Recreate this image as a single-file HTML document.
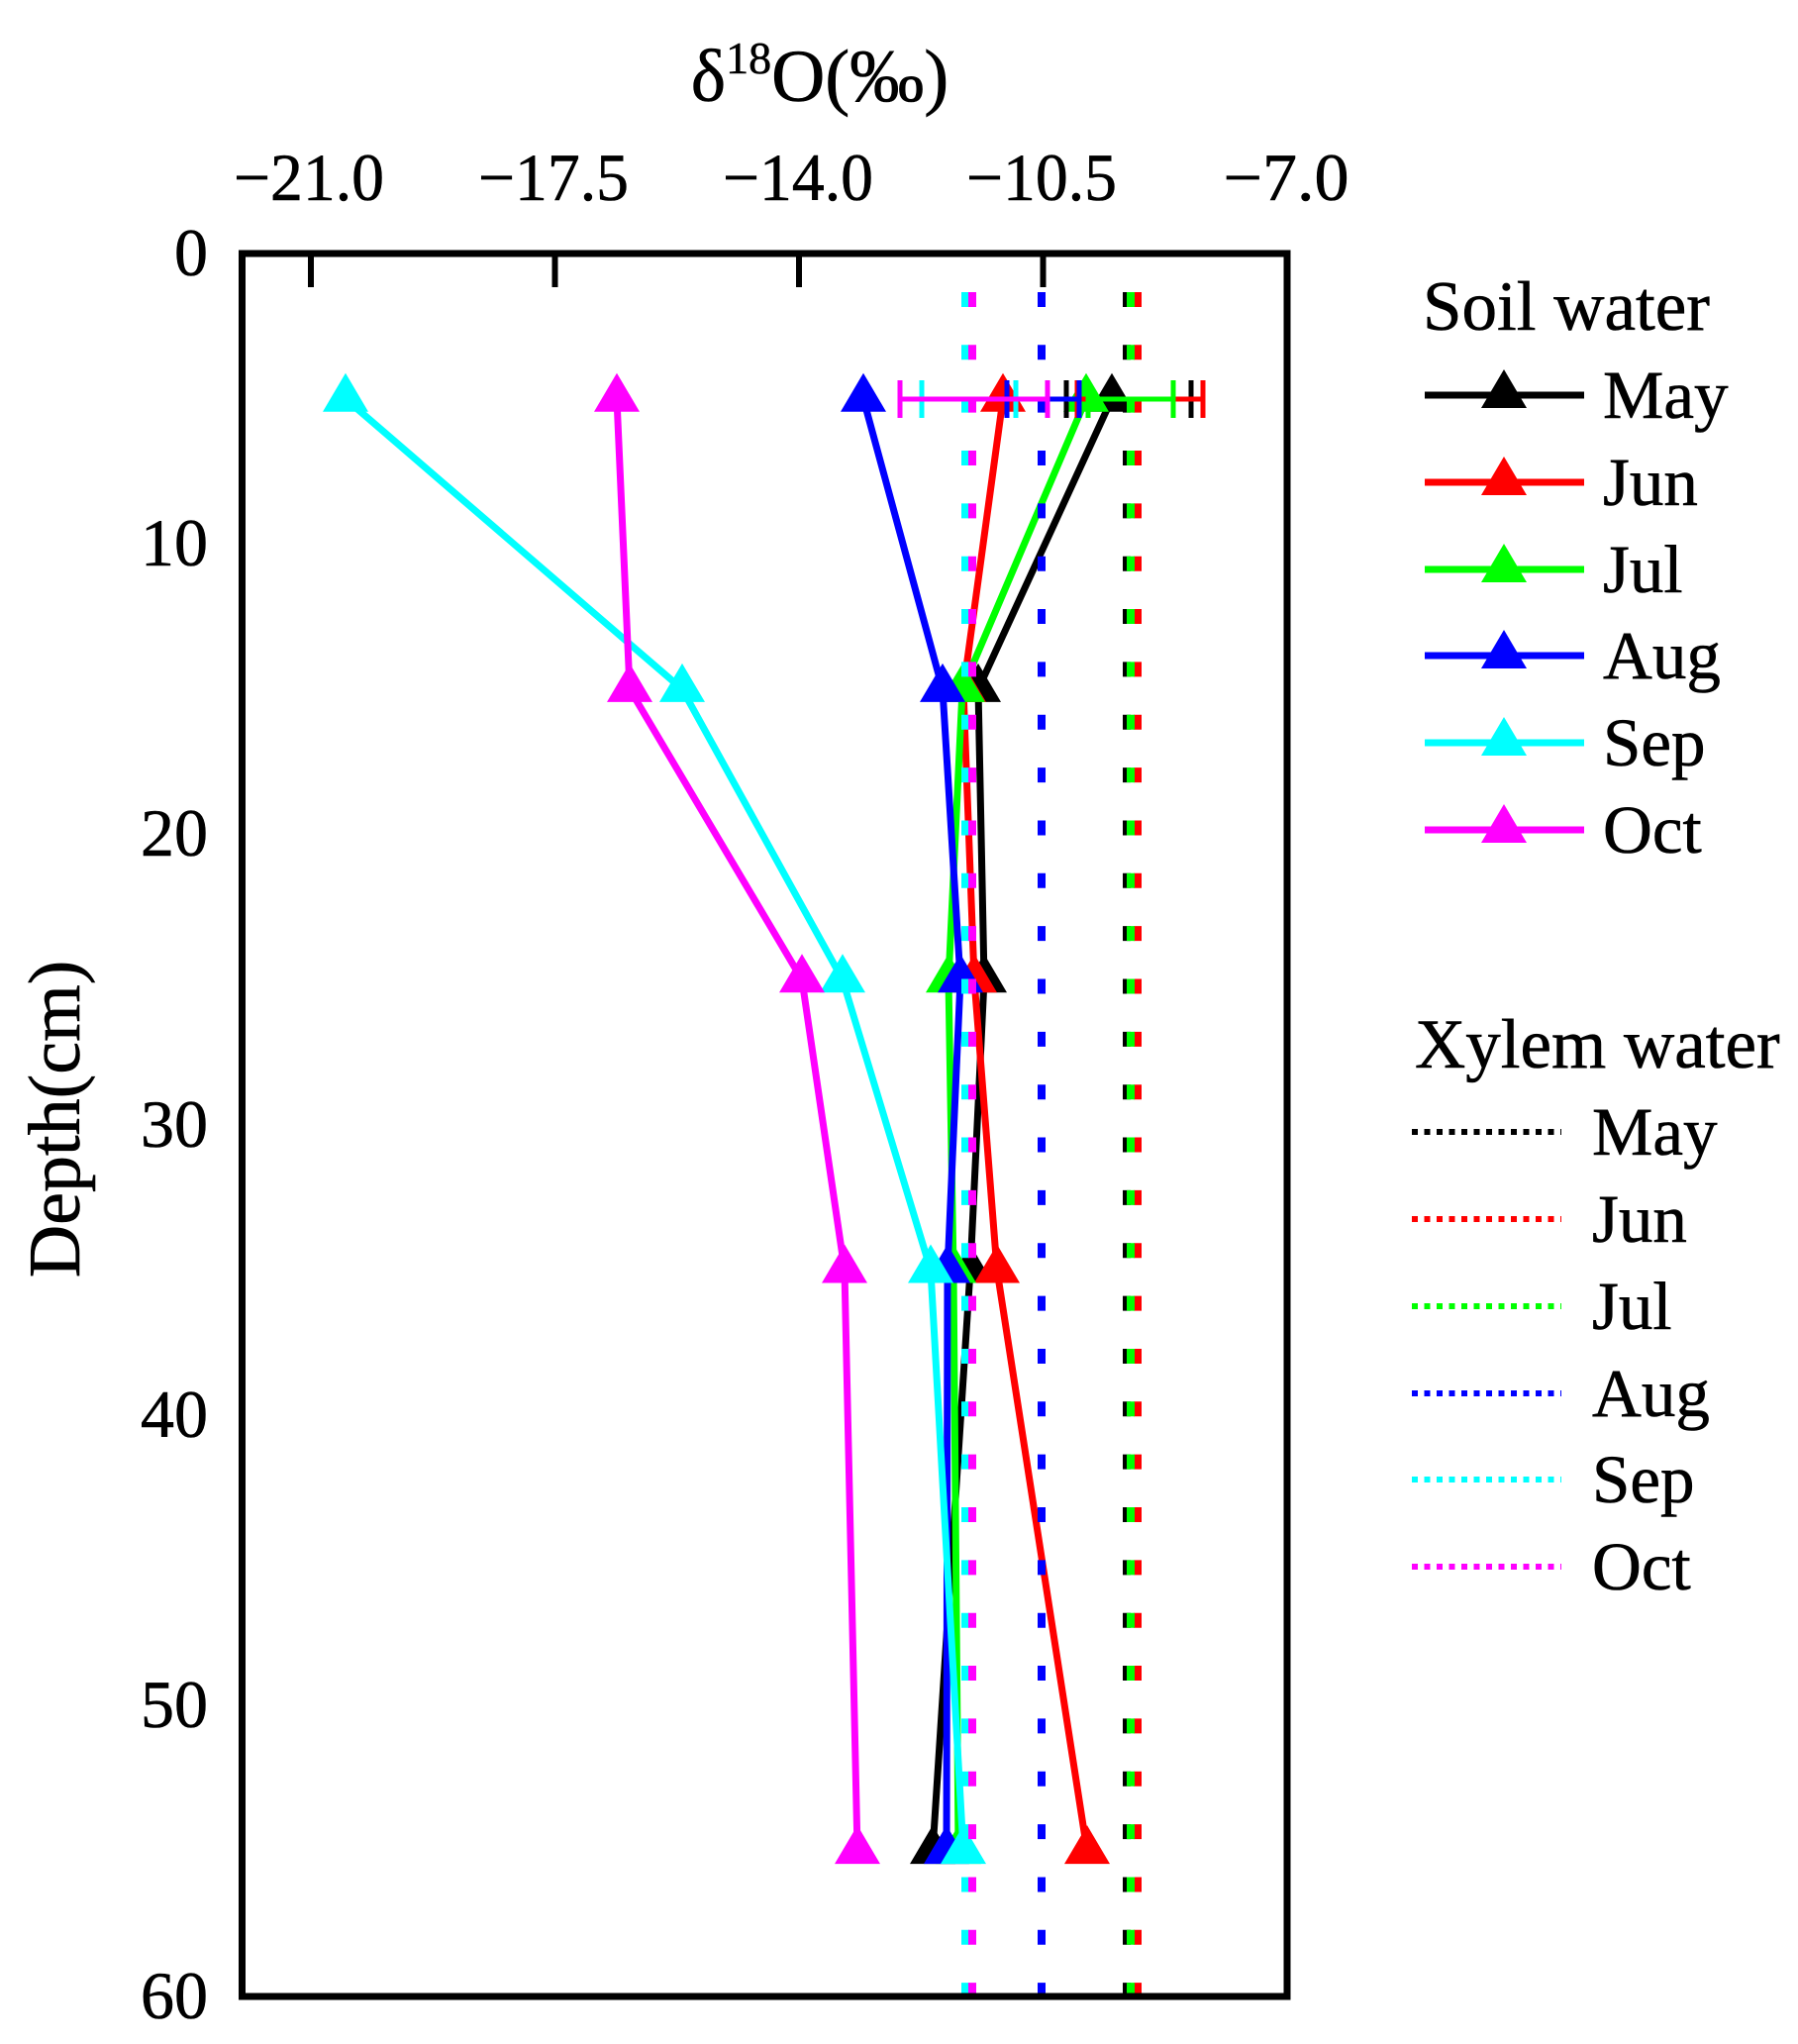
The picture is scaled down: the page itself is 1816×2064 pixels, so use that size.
<!DOCTYPE html>
<html>
<head>
<meta charset="utf-8">
<style>
html,body{margin:0;padding:0;background:#fff;}
svg{display:block;}
text{font-family:"Liberation Serif","DejaVu Serif",serif;fill:#000;stroke:#000;stroke-width:0.6px;}
</style>
</head>
<body>
<svg width="1816" height="2064" viewBox="0 0 1816 2064" xmlns="http://www.w3.org/2000/svg">
<rect x="0" y="0" width="1816" height="2064" fill="#fff"/>

<!-- Title -->
<text x="828" y="102" text-anchor="middle" font-size="75">δ<tspan font-size="46" dy="-28">18</tspan><tspan dy="28">O(‰)</tspan></text>

<!-- X tick labels -->
<g font-size="68" text-anchor="middle">
<text x="312" y="202" textLength="152" lengthAdjust="spacingAndGlyphs">−21.0</text>
<text x="559" y="202" textLength="152" lengthAdjust="spacingAndGlyphs">−17.5</text>
<text x="806" y="202" textLength="152" lengthAdjust="spacingAndGlyphs">−14.0</text>
<text x="1052" y="202" textLength="152" lengthAdjust="spacingAndGlyphs">−10.5</text>
<text x="1299" y="202" textLength="127" lengthAdjust="spacingAndGlyphs">−7.0</text>
</g>

<!-- Y tick labels -->
<g font-size="68" text-anchor="end">
<text x="210" y="278">0</text>
<text x="210" y="571">10</text>
<text x="210" y="864">20</text>
<text x="210" y="1158">30</text>
<text x="210" y="1451">40</text>
<text x="210" y="1744">50</text>
<text x="210" y="2038">60</text>
</g>

<!-- Y axis label -->
<text x="0" y="0" font-size="74" text-anchor="middle" transform="translate(80,1130) rotate(-90)">Depth(cm)</text>

<!-- Soil water series -->
<polyline fill="none" stroke="#000000" stroke-width="7" stroke-linejoin="round" points="1123,402.7 988,695.9 994,989.2 980,1282.5 942,1869.1"/>
<g fill="#000000">
<polygon points="1123,376.7 1100,415.7 1146,415.7"/>
<polygon points="988,669.9 965,708.9 1011,708.9"/>
<polygon points="994,963.2 971,1002.2 1017,1002.2"/>
<polygon points="980,1256.5 957,1295.5 1003,1295.5"/>
<polygon points="942,1843.1 919,1882.1 965,1882.1"/>
</g>

<polyline fill="none" stroke="#ff0000" stroke-width="7" stroke-linejoin="round" points="1013,402.7 973,695.9 984,989.2 1007,1282.5 1098,1869.1"/>
<g fill="#ff0000">
<polygon points="1013,376.7 990,415.7 1036,415.7"/>
<polygon points="973,669.9 950,708.9 996,708.9"/>
<polygon points="984,963.2 961,1002.2 1007,1002.2"/>
<polygon points="1007,1256.5 984,1295.5 1030,1295.5"/>
<polygon points="1098,1843.1 1075,1882.1 1121,1882.1"/>
</g>

<polyline fill="none" stroke="#00ff00" stroke-width="7" stroke-linejoin="round" points="1097,402.7 972,695.9 958,989.2 963,1282.5 968,1869.1"/>
<g fill="#00ff00">
<polygon points="1097,376.7 1074,415.7 1120,415.7"/>
<polygon points="972,669.9 949,708.9 995,708.9"/>
<polygon points="958,963.2 935,1002.2 981,1002.2"/>
<polygon points="963,1256.5 940,1295.5 986,1295.5"/>
<polygon points="968,1843.1 945,1882.1 991,1882.1"/>
</g>

<polyline fill="none" stroke="#0000ff" stroke-width="7" stroke-linejoin="round" points="872,402.7 952,695.9 970,989.2 957,1282.5 956,1869.1"/>
<g fill="#0000ff">
<polygon points="872,376.7 849,415.7 895,415.7"/>
<polygon points="952,669.9 929,708.9 975,708.9"/>
<polygon points="970,963.2 947,1002.2 993,1002.2"/>
<polygon points="957,1256.5 934,1295.5 980,1295.5"/>
<polygon points="956,1843.1 933,1882.1 979,1882.1"/>
</g>

<polyline fill="none" stroke="#00ffff" stroke-width="7" stroke-linejoin="round" points="349,402.7 689,695.9 851,989.2 940,1282.5 973,1869.1"/>
<g fill="#00ffff">
<polygon points="349,376.7 326,415.7 372,415.7"/>
<polygon points="689,669.9 666,708.9 712,708.9"/>
<polygon points="851,963.2 828,1002.2 874,1002.2"/>
<polygon points="940,1256.5 917,1295.5 963,1295.5"/>
<polygon points="973,1843.1 950,1882.1 996,1882.1"/>
</g>

<polyline fill="none" stroke="#ff00ff" stroke-width="7" stroke-linejoin="round" points="623,402.7 636,695.9 810,989.2 853,1282.5 866,1869.1"/>
<g fill="#ff00ff">
<polygon points="623,376.7 600,415.7 646,415.7"/>
<polygon points="636,669.9 613,708.9 659,708.9"/>
<polygon points="810,963.2 787,1002.2 833,1002.2"/>
<polygon points="853,1256.5 830,1295.5 876,1295.5"/>
<polygon points="866,1843.1 843,1882.1 889,1882.1"/>
</g>

<!-- Xylem water dotted lines -->
<g stroke-width="8" stroke-dasharray="15 38.35" stroke-dashoffset="14.4" fill="none">
<line x1="1138" y1="256" x2="1138" y2="2016" stroke="#000000"/>
<line x1="1149" y1="256" x2="1149" y2="2016" stroke="#ff0000"/>
<line x1="1142" y1="256" x2="1142" y2="2016" stroke="#00ff00"/>
<line x1="1052" y1="256" x2="1052" y2="2016" stroke="#0000ff"/>
<line x1="975" y1="256" x2="975" y2="2016" stroke="#00ffff"/>
<line x1="982" y1="256" x2="982" y2="2016" stroke="#ff00ff"/>
</g>

<!-- Error bars at depth 5 -->
<g stroke-width="5" fill="none">
<g stroke="#000000"><line x1="1077" y1="403" x2="1203" y2="403"/><line x1="1077" y1="384" x2="1077" y2="422"/><line x1="1203" y1="384" x2="1203" y2="422"/></g>
<g stroke="#ff0000"><line x1="1088" y1="403" x2="1215" y2="403"/><line x1="1088" y1="384" x2="1088" y2="422"/><line x1="1215" y1="384" x2="1215" y2="422"/></g>
<g stroke="#00ff00"><line x1="1099" y1="403" x2="1185" y2="403"/><line x1="1099" y1="384" x2="1099" y2="422"/><line x1="1185" y1="384" x2="1185" y2="422"/></g>
<g stroke="#0000ff"><line x1="1017" y1="403" x2="1090" y2="403"/><line x1="1017" y1="384" x2="1017" y2="422"/><line x1="1090" y1="384" x2="1090" y2="422"/></g>
<g stroke="#00ffff"><line x1="931" y1="403" x2="1026" y2="403"/><line x1="931" y1="384" x2="931" y2="422"/><line x1="1026" y1="384" x2="1026" y2="422"/></g>
<g stroke="#ff00ff"><line x1="909" y1="403" x2="1058" y2="403"/><line x1="909" y1="384" x2="909" y2="422"/><line x1="1058" y1="384" x2="1058" y2="422"/></g>
</g>

<!-- Frame and ticks -->
<rect x="244.5" y="256" width="1055.5" height="1760" fill="none" stroke="#000" stroke-width="7"/>
<g stroke="#000" stroke-width="6">
<line x1="314" y1="258" x2="314" y2="290"/>
<line x1="560.5" y1="258" x2="560.5" y2="290"/>
<line x1="807" y1="258" x2="807" y2="290"/>
<line x1="1053.5" y1="258" x2="1053.5" y2="290"/>
</g>

<!-- Legend: Soil water -->
<text x="1437" y="333" font-size="71">Soil water</text>
<g stroke-width="7">
<line x1="1439" y1="399" x2="1600" y2="399" stroke="#000000"/>
<line x1="1439" y1="487" x2="1600" y2="487" stroke="#ff0000"/>
<line x1="1439" y1="575" x2="1600" y2="575" stroke="#00ff00"/>
<line x1="1439" y1="662" x2="1600" y2="662" stroke="#0000ff"/>
<line x1="1439" y1="750" x2="1600" y2="750" stroke="#00ffff"/>
<line x1="1439" y1="838" x2="1600" y2="838" stroke="#ff00ff"/>
</g>
<polygon fill="#000000" points="1519,373 1496,412 1542,412"/>
<polygon fill="#ff0000" points="1519,461 1496,500 1542,500"/>
<polygon fill="#00ff00" points="1519,549 1496,588 1542,588"/>
<polygon fill="#0000ff" points="1519,636 1496,675 1542,675"/>
<polygon fill="#00ffff" points="1519,724 1496,763 1542,763"/>
<polygon fill="#ff00ff" points="1519,812 1496,851 1542,851"/>
<g font-size="69">
<text x="1619" y="422">May</text>
<text x="1619" y="510">Jun</text>
<text x="1619" y="598">Jul</text>
<text x="1619" y="685">Aug</text>
<text x="1619" y="773">Sep</text>
<text x="1619" y="861">Oct</text>
</g>

<!-- Legend: Xylem water -->
<text x="1429" y="1078" font-size="71">Xylem water</text>
<g stroke-width="6" stroke-dasharray="6 6.5">
<line x1="1426" y1="1143" x2="1577" y2="1143" stroke="#000000"/>
<line x1="1426" y1="1231" x2="1577" y2="1231" stroke="#ff0000"/>
<line x1="1426" y1="1319" x2="1577" y2="1319" stroke="#00ff00"/>
<line x1="1426" y1="1407" x2="1577" y2="1407" stroke="#0000ff"/>
<line x1="1426" y1="1494" x2="1577" y2="1494" stroke="#00ffff"/>
<line x1="1426" y1="1582" x2="1577" y2="1582" stroke="#ff00ff"/>
</g>
<g font-size="69">
<text x="1608" y="1166">May</text>
<text x="1608" y="1254">Jun</text>
<text x="1608" y="1342">Jul</text>
<text x="1608" y="1430">Aug</text>
<text x="1608" y="1517">Sep</text>
<text x="1608" y="1605">Oct</text>
</g>
</svg>
</body>
</html>
